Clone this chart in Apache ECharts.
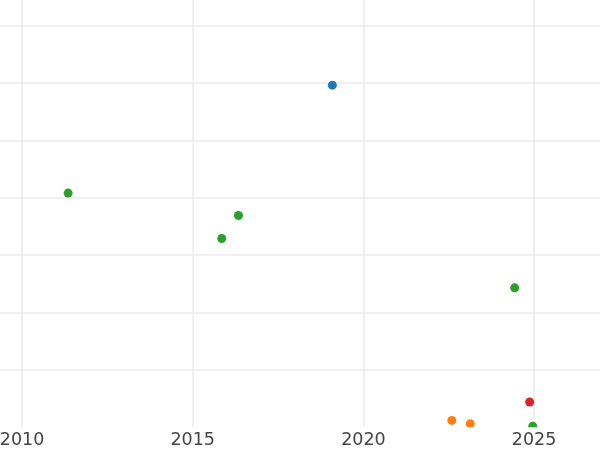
<!DOCTYPE html>
<html>
<head>
<meta charset="utf-8">
<script src="https://cdn.jsdelivr.net/npm/echarts@6/dist/echarts.min.js"></script>
<style>html,body{margin:0;padding:0;background:#fff}#c{width:600px;height:450px}</style>
</head>
<body>
<div id="c"></div>
<script>
// x = year (decimal), y = value (axis units, gridline every 1)
const blueSeries   = [[2019.09, 5.96]];
const greenSeries  = [[2011.35, 4.08], [2016.34, 3.69], [2015.85, 3.29], [2024.43, 2.43], [2024.96, 0.02]];
const redSeries    = [[2024.87, 0.44]];
const orangeSeries = [[2022.59, 0.12], [2023.13, 0.06]];
const xTicks = [2010, 2015, 2020, 2025];
const yTicks = [1, 2, 3, 4, 5, 6, 7];

const X_MIN = 2009.355, X_MAX = 2026.93;

const chart = echarts.init(document.getElementById('c'), null, {renderer: 'canvas'});
const mk = (name, data, color) => ({
  name, type: 'scatter', data, symbolSize: 9, clip: false,
  xAxisIndex: 0, yAxisIndex: 0,
  itemStyle: {color, opacity: 1}, z: 2
});
chart.setOption({
  animation: false,
  backgroundColor: '#ffffff',
  grid: {left: 0, right: 0, top: 0, bottom: 22.7, containLabel: false, outerBoundsMode: 'none'},
  xAxis: [{
    type: 'value', min: X_MIN, max: X_MAX, position: 'bottom',
    z: 0,
    axisLine: {show: false},
    axisTick: {show: false, customValues: xTicks},
    axisLabel: {show: false, customValues: xTicks},
    splitLine: {show: true, lineStyle: {color: '#ebebeb', width: 1.5}},
    axisPointer: {show: false}
  }, {
    type: 'value', min: X_MIN, max: X_MAX, position: 'bottom', offset: 0,
    z: 10,
    axisLine: {show: false},
    axisTick: {show: false, customValues: xTicks},
    axisLabel: {
      show: true, color: '#444444', fontSize: 17.5, fontFamily: 'DejaVu Sans',
      margin: 13.5, verticalAlign: 'middle', hideOverlap: false,
      customValues: xTicks,
      formatter: v => String(v)
    },
    splitLine: {show: false},
    axisPointer: {show: false}
  }],
  yAxis: {
    type: 'value', min: 0, max: 7.444,
    axisLine: {show: false},
    axisTick: {show: false, customValues: yTicks},
    axisLabel: {show: false, customValues: yTicks},
    splitLine: {show: true, lineStyle: {color: '#ebebeb', width: 1.5}}
  },
  graphic: [{
    type: 'rect', left: 0, top: 427.3, z: 5,
    shape: {width: 600, height: 23},
    style: {fill: '#ffffff'}
  }],
  series: [
    mk('blue', blueSeries, '#1f77b4'),
    mk('green', greenSeries, '#2ca02c'),
    mk('red', redSeries, '#d62728'),
    mk('orange', orangeSeries, '#ff7f0e')
  ]
});
</script>
</body>
</html>
